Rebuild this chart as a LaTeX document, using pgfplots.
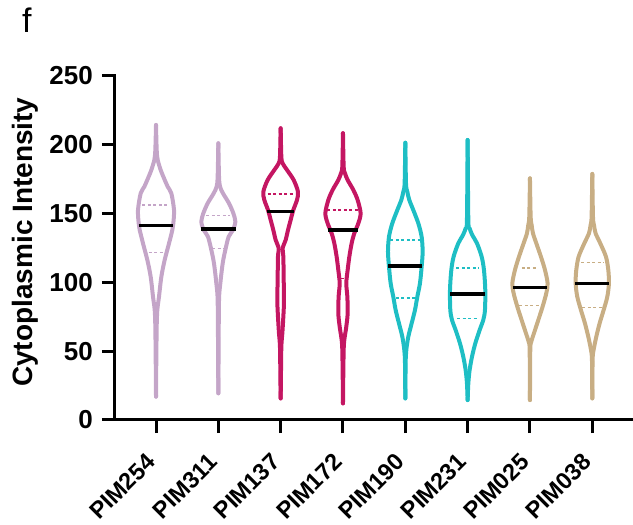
\documentclass[border=0pt]{standalone}
\usepackage{fontspec}
\setmainfont{Liberation Sans}
\usepackage{pgfplots}
\usepackage{pgfplotstable}
\pgfplotsset{compat=1.18}

\definecolor{cP}{RGB}{196,165,200}
\definecolor{cR}{RGB}{196,22,98}
\definecolor{cC}{RGB}{30,190,196}
\definecolor{cT}{RGB}{200,174,132}

\pgfplotstableread{
v w
214.4 0
196.2 0.011
189.0 0.027
181.7 0.075
176.8 0.118
169.6 0.187
164.7 0.246
152.6 0.289
142.9 0.278
138.1 0.262
128.4 0.209
116.3 0.139
104.2 0.086
89.6 0.048
79.9 0.021
67.8 0.011
40.0 0.004
17.0 0
}\vA
\pgfplotstableread{
v w
201.1 0
176.8 0.011
169.6 0.027
164.7 0.075
157.5 0.171
150.2 0.241
144.1 0.273
138.1 0.235
133.2 0.166
123.5 0.112
113.9 0.070
99.3 0.032
87.2 0.011
50.0 0.004
19.4 0
}\vB
\pgfplotstableread{
v w
212.0 0
191.4 0.011
186.5 0.032
181.7 0.102
174.4 0.209
165.9 0.278
159.9 0.262
152.6 0.203
145.3 0.160
138.1 0.118
130.8 0.080
124.8 0.032
118.7 0.043
104.2 0.048
86.0 0.053
75.1 0.043
63.0 0.027
53.3 0.011
30.0 0.004
15.7 0
}\vC
\pgfplotstableread{
v w
208.4 0
184.1 0.011
179.3 0.032
174.4 0.075
167.2 0.166
159.9 0.235
150.2 0.283
142.9 0.246
135.7 0.182
128.4 0.139
118.7 0.102
109.0 0.075
99.3 0.053
89.6 0.070
77.5 0.075
67.8 0.053
58.1 0.021
50.9 0.011
30.0 0.004
12.1 0
}\vD
\pgfplotstableread{
v w
201.5 0
172.0 0.011
165.9 0.032
159.9 0.064
152.6 0.128
142.9 0.209
133.2 0.262
122.3 0.278
111.4 0.262
99.3 0.235
89.6 0.193
79.9 0.155
70.3 0.102
60.5 0.048
50.9 0.016
41.2 0.005
15.7 0
}\vE
\pgfplotstableread{
v w
203.5 0
145.3 0.011
139.3 0.032
134.4 0.075
128.4 0.150
118.7 0.225
109.0 0.262
94.5 0.283
79.9 0.278
72.7 0.251
65.4 0.193
55.7 0.123
46.0 0.070
36.3 0.032
26.7 0.011
14.5 0
}\vF
\pgfplotstableread{
v w
175.6 0
147.8 0.011
141.7 0.027
135.7 0.048
128.4 0.102
118.7 0.176
109.0 0.241
99.3 0.283
92.1 0.262
82.4 0.203
72.7 0.134
63.0 0.064
56.9 0.021
50.9 0.005
14.5 0
}\vG
\pgfplotstableread{
v w
178.8 0
147.8 0.011
141.7 0.027
135.7 0.053
128.4 0.128
118.7 0.219
109.0 0.257
99.3 0.267
89.6 0.241
79.9 0.182
70.3 0.118
60.5 0.064
50.9 0.021
43.6 0.005
15.7 0
}\vH

\pgfplotsset{
  vio/.style={line width=4pt, line join=round, line cap=round, smooth, tension=0.5},
  med/.style={black, line width=3.4pt},
  qrt/.style={line width=1.2pt, dash pattern=on 3pt off 2.5pt},
}

\begin{document}
\begin{tikzpicture}
\begin{axis}[
  scale only axis, width=518pt, height=344pt,
  xmin=-0.658, xmax=7.653, ymin=0, ymax=250,
  axis lines*=left,
  axis line style={line width=3pt, line cap=rect},
  tick align=outside,
  major tick length=13pt,
  tick style={line width=3pt, black},
  xtick={0,...,7},
  xticklabels={PIM254,PIM311,PIM137,PIM172,PIM190,PIM231,PIM025,PIM038},
  xticklabel style={font=\fontsize{23.5}{23.5}\selectfont\bfseries, xshift=-11pt, yshift=-16pt, rotate=45, anchor=north east, inner sep=2pt},
  ytick={0,50,...,250},
  yticklabel style={font=\fontsize{26}{26}\selectfont\bfseries, inner sep=3pt, xshift=-6pt},
  /pgf/number format/assume math mode=true,
  ylabel={Cytoplasmic Intensity},
  ylabel style={font=\fontsize{28}{28}\selectfont\bfseries, at={(axis description cs:-0.1737,0.517)}, anchor=center},
  clip=false,
]
\coordinate (O) at (rel axis cs:0,0);
% PIM254
\addplot[vio, cP] table[x expr=0+\thisrow{w}, y=v]{\vA};
\addplot[vio, cP] table[x expr=0-\thisrow{w}, y=v]{\vA};
% PIM311
\addplot[vio, cP] table[x expr=1+\thisrow{w}, y=v]{\vB};
\addplot[vio, cP] table[x expr=1-\thisrow{w}, y=v]{\vB};
% PIM137
\addplot[vio, cR] table[x expr=2+\thisrow{w}, y=v]{\vC};
\addplot[vio, cR] table[x expr=2-\thisrow{w}, y=v]{\vC};
% PIM172
\addplot[vio, cR] table[x expr=3+\thisrow{w}, y=v]{\vD};
\addplot[vio, cR] table[x expr=3-\thisrow{w}, y=v]{\vD};
% PIM190
\addplot[vio, cC] table[x expr=4+\thisrow{w}, y=v]{\vE};
\addplot[vio, cC] table[x expr=4-\thisrow{w}, y=v]{\vE};
% PIM231
\addplot[vio, cC] table[x expr=5+\thisrow{w}, y=v]{\vF};
\addplot[vio, cC] table[x expr=5-\thisrow{w}, y=v]{\vF};
% PIM025
\addplot[vio, cT] table[x expr=6+\thisrow{w}, y=v]{\vG};
\addplot[vio, cT] table[x expr=6-\thisrow{w}, y=v]{\vG};
% PIM038
\addplot[vio, cT] table[x expr=7+\thisrow{w}, y=v]{\vH};
\addplot[vio, cT] table[x expr=7-\thisrow{w}, y=v]{\vH};

% quartiles
\addplot[qrt, cP] coordinates {(-0.22,156.2) (0.22,156.2)};
\addplot[qrt, cP] coordinates {(-0.12,121.6) (0.12,121.6)};
\addplot[qrt, cP] coordinates {(0.81,148.8) (1.19,148.8)};
\addplot[qrt, cP] coordinates {(0.90,124.8) (1.10,124.8)};
\addplot[qrt, cR] coordinates {(1.79,164.2) (2.21,164.2)};
\addplot[qrt, cR] coordinates {(1.98,124.0) (2.02,124.0)};
\addplot[qrt, cR] coordinates {(2.75,152.6) (3.25,152.6)};
\addplot[qrt, cR] coordinates {(2.97,103.0) (3.03,103.0)};
\addplot[qrt, cC] coordinates {(3.76,130.8) (4.24,130.8)};
\addplot[qrt, cC] coordinates {(3.85,88.7) (4.15,88.7)};
\addplot[qrt, cC] coordinates {(4.82,110.5) (5.18,110.5)};
\addplot[qrt, cC] coordinates {(4.83,73.9) (5.17,73.9)};
\addplot[qrt, cT] coordinates {(5.87,110.5) (6.13,110.5)};
\addplot[qrt, cT] coordinates {(5.83,83.3) (6.17,83.3)};
\addplot[qrt, cT] coordinates {(6.82,114.6) (7.18,114.6)};
\addplot[qrt, cT] coordinates {(6.84,81.9) (7.16,81.9)};

% medians
\addplot[med] coordinates {(-0.278,141.2) (0.278,141.2)};
\addplot[med] coordinates {(0.72,138.8) (1.28,138.8)};
\addplot[med] coordinates {(1.786,151.4) (2.214,151.4)};
\addplot[med] coordinates {(2.767,138.1) (3.233,138.1)};
\addplot[med] coordinates {(3.73,111.9) (4.27,111.9)};
\addplot[med] coordinates {(4.72,91.6) (5.28,91.6)};
\addplot[med] coordinates {(5.725,96.4) (6.275,96.4)};
\addplot[med] coordinates {(6.725,99.3) (7.275,99.3)};

\node[font=\fontsize{34}{34}\selectfont, anchor=center] at (axis description cs:-0.170,1.163) {f};
\end{axis}
\pgfresetboundingbox
\path[use as bounding box] (O) ++(-115pt,-105pt) rectangle ++(633pt,525pt);
\end{tikzpicture}
\end{document}
